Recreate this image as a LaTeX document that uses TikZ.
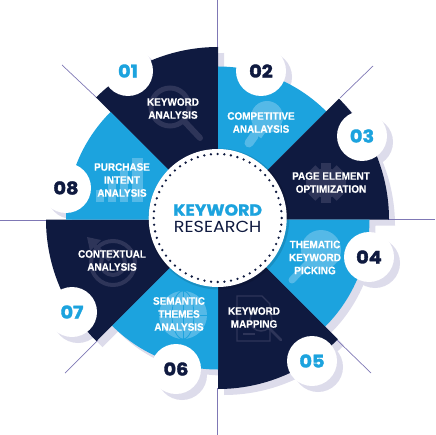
\documentclass[tikz,border=0pt]{standalone}
\usepackage{fontspec}
\setmainfont[BoldFeatures={FakeBold=0.25,FakeStretch=0.92}]{Liberation Sans}
\newfontfamily\popf[FakeStretch=1.1,BoldFeatures={FakeBold=2,FakeStretch=1.1}]{Poppins}
\newfontfamily\titlea[BoldFeatures={FakeBold=1.5,FakeStretch=1.08}]{Poppins}
\newfontfamily\titleb[FakeStretch=1.1]{Poppins}
\definecolor{darkc}{HTML}{0F1A40}
\definecolor{bluec}{HTML}{1CA3DE}
\definecolor{shadowc}{HTML}{DDDCEB}
\definecolor{linec}{HTML}{7F78B5}
\definecolor{iconD}{HTML}{2E3559}
\definecolor{iconL}{HTML}{55B9E7}
\tikzset{
  lab/.style={text=white,font=\fontsize{10.8}{13}\selectfont\bfseries,align=center,inner sep=0pt},
  num/.style={font=\fontsize{17.5}{17}\selectfont\popf\bfseries,inner sep=0pt},
  badge/.style={circle,fill=white,minimum size=50pt,inner sep=0pt},
  guide/.style={draw=linec,line width=0.7pt},
  dring/.style={draw=iconD,line width=#1},
  lring/.style={draw=iconL,line width=#1}
}
\newcommand{\wedgepath}[3]{(218,219.5) -- ++(#1:#3) arc[start angle=#1,end angle=#2,radius=#3] -- cycle}
\newcommand{\allwedges}{%
  \wedgepath{-135}{-90}{172.5}
  \wedgepath{-90}{-45}{153}
  \wedgepath{-45}{0}{171}
  \wedgepath{0}{45}{151.5}
  \wedgepath{45}{90}{169.5}
  \wedgepath{90}{135}{150}
  \wedgepath{135}{180}{172}
  \wedgepath{180}{225}{152}
}
\newcommand{\allbadges}{%
  (128,71) circle[radius=25]
  (261,71) circle[radius=25]
  (362,136) circle[radius=25]
  (369,257) circle[radius=25]
  (312,361) circle[radius=25]
  (176,369) circle[radius=25]
  (72,312) circle[radius=25]
  (66,188) circle[radius=25]
}
\begin{document}
\begin{tikzpicture}[x=1pt,y=1pt,yscale=-1]
\useasboundingbox (0,0) rectangle (435,435);
% shadows
\begin{scope}[shift={(6,6)}]
  \fill[shadowc] \allwedges;
  \fill[shadowc] \allbadges;
\end{scope}
% guide lines
\coordinate (t1) at (217.5,0);   \coordinate (t2) at (217.5,48);
\coordinate (b1) at (217.5,435); \coordinate (b2) at (217.5,388);
\coordinate (l1) at (0,220);     \coordinate (l2) at (47,220);
\coordinate (r1) at (435,219.5); \coordinate (r2) at (388,219.5);
\coordinate (d1) at (62,65);     \coordinate (d2) at (97,98);
\coordinate (d3) at (373,66);    \coordinate (d4) at (340,98);
\coordinate (d5) at (65,373);    \coordinate (d6) at (98,340);
\coordinate (d7) at (371,373);   \coordinate (d8) at (337,340);
\foreach \a/\b in {t1/t2,b1/b2,l1/l2,r1/r2,d1/d2,d3/d4,d5/d6,d7/d8}
  \draw[guide] (\a) -- (\b);
% wedges
\fill[darkc] \wedgepath{-135}{-90}{172.5};
\fill[bluec] \wedgepath{-90}{-45}{153};
\fill[darkc] \wedgepath{-45}{0}{171};
\fill[bluec] \wedgepath{0}{45}{151.5};
\fill[darkc] \wedgepath{45}{90}{169.5};
\fill[bluec] \wedgepath{90}{135}{150};
\fill[darkc] \wedgepath{135}{180}{172};
\fill[bluec] \wedgepath{180}{225}{152};
% faint icons
% 01 magnifier
\draw[dring=5pt] (170,107) circle[radius=19];
\draw[dring=6pt,line cap=round] (184,121) -- (200,138);
% 02 bulb
\fill[iconL] (267,117) circle[radius=16];
\draw[iconL,line width=15pt] (262,124) -- (255,134);
\draw[iconL,line width=9pt,line cap=round] (254,136) -- (249,143);
% 03 gear
\fill[iconD] (326,183) circle[radius=15];
\foreach \ang in {0,45,...,315}
  \fill[iconD,rotate around={\ang:(326,183)}] (321,163) rectangle (331,172);
% 04 magnifier
\fill[iconL] (321,250) circle[radius=20];
\draw[iconL,line width=7pt,line cap=round] (307,264) -- (292,280);
% 05 document
\draw[dring=1.2pt] (237,296) -- (262,296) -- (270,304) -- (270,341) -- (237,341) -- cycle;
\draw[dring=1.2pt] (243,334) -- (255,334);
\fill[darkc] (261,320) circle[radius=11];
\draw[dring=1.5pt] (261,320) circle[radius=11];
\draw[dring=2.5pt,line cap=round] (269,328) -- (281,340);
% 06 globe
\fill[iconL] (183,315) circle[radius=24];
\draw[bluec,line width=0.8pt] (183,291) -- (183,339);
\draw[bluec,line width=0.8pt] (183,315) ellipse[x radius=11,y radius=24];
\draw[bluec,line width=0.8pt] (159,315) -- (207,315);
% 07 target
\draw[dring=4pt] (113,263) circle[radius=22];
\draw[dring=4pt] (113,263) circle[radius=12];
\draw[dring=4pt] (110,260) -- (92,243);
\fill[iconD] (87,237) -- (101,240) -- (90,251) -- cycle;
% 08 bars
\fill[iconL] (96,202) rectangle (104,190);
\fill[iconL] (108,202) rectangle (116,180);
\fill[iconL] (120,202) rectangle (128,170);
\fill[iconL] (132,202) rectangle (143,158);
% center circle
\fill[black,opacity=.12] (218.7,219) circle[radius=70.5];
\node[circle,fill=white,minimum size=138pt,inner sep=0pt] (hub) at (217.7,218) {};
\draw[darkc,line width=2.6pt,line cap=round,dash pattern=on 0pt off 6.7pt] (hub.center) circle[radius=64];
\node[inner sep=0pt,text=bluec,font=\fontsize{16}{16}\selectfont\titlea\bfseries] (t1n) at (217.7,210) {KEYWORD};
\node[inner sep=0pt,text=darkc,font=\fontsize{16}{16}\selectfont\titleb] (t2n) at (217.7,226.5) {RESEARCH};
% badges
\foreach \p/\n in {{(128,71)}/b1,{(261,71)}/b2,{(362,136)}/b3,{(369,257)}/b4,{(312,361)}/b5,{(176,369)}/b6,{(72,312)}/b7,{(66,188)}/b8}
  \node[badge] (\n) at \p {};
\node[num,text=bluec] (n1) at (128,71) {01};
\node[num,text=darkc] (n2) at (261,71) {02};
\node[num,text=bluec] (n3) at (362,136) {03};
\node[num,text=darkc] (n4) at (369,257) {04};
\node[num,text=bluec] (n5) at (312,361) {05};
\node[num,text=darkc] (n6) at (176,369) {06};
\node[num,text=bluec] (n7) at (72,312) {07};
\node[num,text=darkc] (n8) at (66,188) {08};
% labels
\node[lab] (L1) at (173,108.5) {KEYWORD\\ANALYSIS};
\node[lab] (L2) at (261,122.5) {COMPETITIVE\\ANALAYSIS};
\node[lab] (L3) at (331,182.5) {PAGE ELEMENT\\OPTIMIZATION};
\node[lab] (L4) at (315,257.5) {THEMATIC\\KEYWORD\\PICKING};
\node[lab] (L5) at (254,317.5) {KEYWORD\\MAPPING};
\node[lab] (L6) at (179,314) {SEMANTIC\\THEMES\\ANALYSIS};
\node[lab] (L7) at (112,260.5) {CONTEXTUAL\\ANALYSIS};
\node[lab] (L8) at (122,180) {PURCHASE\\INTENT\\ANALYSIS};
\end{tikzpicture}
\end{document}
